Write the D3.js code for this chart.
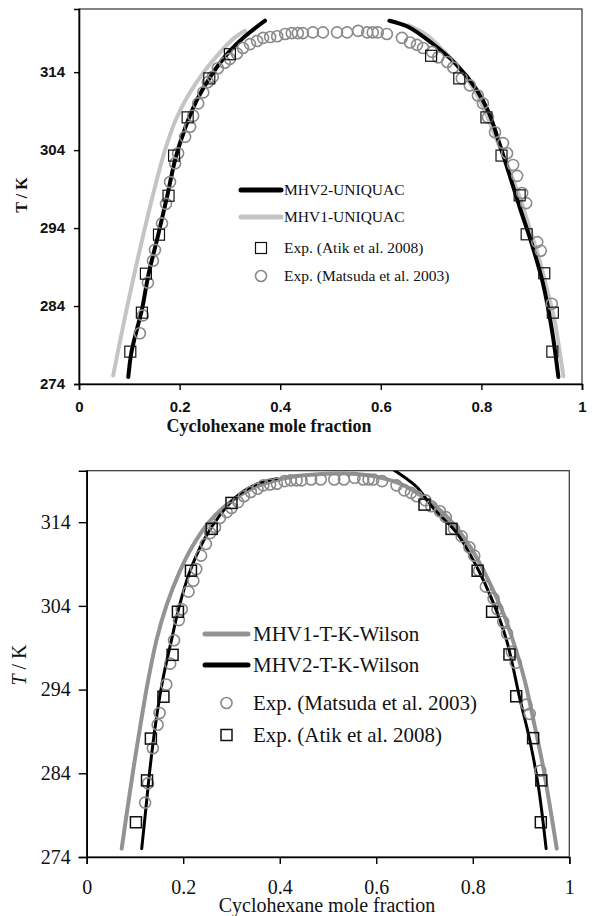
<!DOCTYPE html>
<html>
<head>
<meta charset="utf-8">
<script src="https://cdn.jsdelivr.net/npm/d3@7/dist/d3.min.js"></script>
<style>
body { margin: 0; background: #fff; }
</style>
</head>
<body>
<div id="chart"></div>
<script>
// tick values (both panels)
var xTicks = [0, 0.2, 0.4, 0.6, 0.8, 1];
var yTicks = [274, 284, 294, 304, 314];

// Exp. (Atik et al. 2008)  [x cyclohexane, T/K]
var atikData = [
  [0.102, 278.15], [0.125, 283.15], [0.133, 288.15], [0.159, 293.15], [0.178, 298.15],
  [0.189, 303.3], [0.216, 308.2], [0.259, 313.2], [0.300, 316.3],
  [0.700, 316.1], [0.756, 313.2], [0.810, 308.2], [0.840, 303.3], [0.876, 298.2],
  [0.890, 293.2], [0.925, 288.2], [0.942, 283.15], [0.941, 278.15]
];

// Exp. (Matsuda et al. 2003)
var matsudaData = [
  [0.121, 280.5], [0.127, 282.8], [0.137, 287.0], [0.147, 289.8], [0.151, 291.2],
  [0.165, 294.6], [0.173, 297.1], [0.181, 299.9], [0.191, 302.3], [0.197, 303.6],
  [0.211, 305.7], [0.221, 307.0], [0.227, 308.4], [0.237, 310.0], [0.247, 311.4],
  [0.256, 312.7], [0.266, 313.4], [0.276, 314.5], [0.290, 315.2], [0.300, 315.7],
  [0.314, 316.4], [0.326, 317.1], [0.340, 317.6], [0.354, 318.0], [0.366, 318.4],
  [0.380, 318.5], [0.394, 318.6], [0.410, 318.9], [0.423, 319.0], [0.435, 319.0],
  [0.445, 319.0], [0.465, 319.1], [0.485, 319.1], [0.513, 319.1], [0.533, 319.1],
  [0.555, 319.3], [0.573, 319.1], [0.584, 319.1], [0.594, 319.1], [0.612, 318.9],
  [0.642, 318.4], [0.658, 317.8], [0.672, 317.5], [0.684, 317.1], [0.702, 316.6],
  [0.714, 315.9], [0.732, 315.3], [0.744, 314.6], [0.761, 313.2], [0.777, 312.3],
  [0.793, 311.0], [0.803, 310.0], [0.813, 308.2], [0.827, 306.3], [0.843, 304.9],
  [0.851, 303.6], [0.863, 302.1], [0.871, 300.7], [0.881, 298.5], [0.889, 297.2],
  [0.911, 292.2], [0.918, 291.1], [0.940, 284.3]
];

// top panel: UNIQUAC models
var mhv2UniquacLeft = [
  [0.098, 274.9], [0.104, 278.0], [0.115, 281.0], [0.125, 283.5], [0.138, 288.0],
  [0.157, 293.0], [0.175, 298.0], [0.192, 303.0], [0.212, 307.0], [0.235, 310.5],
  [0.262, 313.5], [0.297, 316.5], [0.330, 318.6], [0.370, 320.6]
];
var mhv2UniquacRight = [
  [0.617, 320.6], [0.655, 319.8], [0.700, 317.8], [0.750, 315.0], [0.790, 311.8],
  [0.815, 308.8], [0.835, 305.0], [0.855, 301.0], [0.877, 296.5], [0.900, 292.0],
  [0.922, 287.0], [0.940, 281.0], [0.953, 274.9]
];
var mhv1UniquacLeft = [
  [0.068, 275.1], [0.080, 279.0], [0.096, 284.0], [0.113, 289.0], [0.131, 294.0],
  [0.150, 299.0], [0.171, 304.0], [0.193, 308.0], [0.217, 311.0], [0.248, 314.0],
  [0.280, 316.5], [0.307, 318.3], [0.330, 319.3]
];
var mhv1UniquacRight = [
  [0.655, 320.0], [0.690, 318.8], [0.728, 316.5], [0.768, 313.5], [0.800, 310.0],
  [0.826, 306.0], [0.852, 302.0], [0.876, 298.0], [0.896, 294.0], [0.915, 290.0],
  [0.931, 286.0], [0.946, 282.0], [0.956, 278.0], [0.963, 275.0]
];

// bottom panel: T-K-Wilson models
var mhv1WilsonCurve = [
  [0.0725, 275.0], [0.085, 280.0], [0.098, 285.0], [0.112, 290.0], [0.127, 295.0],
  [0.145, 300.0], [0.165, 304.0], [0.192, 308.0], [0.218, 311.0], [0.253, 314.0],
  [0.295, 316.3], [0.342, 318.0], [0.392, 319.0], [0.450, 319.6], [0.500, 319.8],
  [0.550, 319.8], [0.594, 319.5], [0.649, 318.6], [0.697, 317.0], [0.746, 314.7],
  [0.794, 311.1], [0.833, 307.0], [0.864, 303.0], [0.888, 299.0], [0.908, 295.0],
  [0.927, 290.0], [0.945, 285.0], [0.960, 280.0], [0.974, 275.0]
];
var mhv2WilsonLeft = [
  [0.114, 275.0], [0.123, 280.0], [0.132, 285.0], [0.143, 290.0], [0.157, 295.0],
  [0.176, 300.0], [0.192, 304.0], [0.213, 308.0], [0.244, 312.0], [0.278, 315.0],
  [0.315, 317.3], [0.355, 318.6], [0.394, 319.2]
];
var mhv2WilsonRight = [
  [0.635, 320.3], [0.660, 319.3], [0.684, 318.2], [0.718, 315.7], [0.767, 312.7],
  [0.808, 308.7], [0.843, 304.3], [0.870, 299.9], [0.898, 292.8], [0.918, 288.0],
  [0.936, 282.4], [0.952, 275.0]
];

var serif = "'Liberation Serif', 'Times New Roman', serif";
var sans = "'Liberation Sans', Arial, sans-serif";

var svg = d3.select("#chart")
  .append("svg")
  .attr("width", 592)
  .attr("height", 916);

function drawPanel(p) {
  var xScale = d3.scaleLinear().domain([0, 1]).range([p.left, p.right]);
  var yScale = d3.scaleLinear().domain([274, p.yMax]).range([p.bottom, p.top]);

  var g = svg.append("g").attr("id", p.id);

  g.append("clipPath").attr("id", "clip-" + p.id)
    .append("rect")
    .attr("x", p.left).attr("y", p.top)
    .attr("width", p.right - p.left).attr("height", p.bottom - p.top);

  // frame
  g.append("rect")
    .attr("x", p.left).attr("y", p.top)
    .attr("width", p.right - p.left).attr("height", p.bottom - p.top)
    .attr("fill", "none")
    .attr("stroke", "#333")
    .attr("stroke-width", 1.2);

  var line = d3.line()
    .x(function(d) { return xScale(d[0]); })
    .y(function(d) { return yScale(d[1]); })
    .curve(d3.curveCatmullRom.alpha(0.5));

  var plot = g.append("g").attr("clip-path", "url(#clip-" + p.id + ")");
  p.curves.forEach(function(c) {
    plot.append("path")
      .datum(c.data)
      .attr("d", line)
      .attr("fill", "none")
      .attr("stroke", c.color)
      .attr("stroke-width", c.width)
      .attr("stroke-linecap", "round")
      .attr("stroke-linejoin", "round");
  });

  // Matsuda circles
  g.append("g")
    .selectAll("circle")
    .data(matsudaData)
    .enter()
    .append("circle")
    .attr("cx", function(d) { return xScale(d[0]); })
    .attr("cy", function(d) { return yScale(d[1]); })
    .attr("r", 5.5)
    .attr("fill", "none")
    .attr("stroke", "#8a8a8a")
    .attr("stroke-width", 1.6);

  // Atik squares
  g.append("g")
    .selectAll("rect")
    .data(atikData)
    .enter()
    .append("rect")
    .attr("x", function(d) { return xScale(d[0]) - 5.5; })
    .attr("y", function(d) { return yScale(d[1]) - 5.5; })
    .attr("width", 11)
    .attr("height", 11)
    .attr("fill", "none")
    .attr("stroke", "#111")
    .attr("stroke-width", p.sqStroke);

  // axes
  var leftAxis = d3.axisLeft(yScale)
    .tickValues(yTicks)
    .tickSize(p.yTickSize)
    .tickPadding(p.yPad)
    .tickFormat(function(d) { return String(d); });
  var bottomAxis = d3.axisBottom(xScale)
    .tickValues(xTicks)
    .tickSize(p.xTickSize)
    .tickPadding(p.xPad)
    .tickFormat(function(d) { return String(d); });

  var ya = g.append("g")
    .attr("transform", "translate(" + p.left + ",0)")
    .call(leftAxis);
  var xa = g.append("g")
    .attr("transform", "translate(0," + p.bottom + ")")
    .call(bottomAxis);

  [ya, xa].forEach(function(a) {
    a.select(".domain").attr("stroke", "#000").attr("stroke-width", 1.6);
    a.selectAll(".tick line").attr("stroke", "#000").attr("stroke-width", 1.4);
    a.selectAll("text")
      .attr("fill", "#111")
      .style("font-family", p.tickFont)
      .style("font-size", p.tickSizePx + "px")
      .style("font-weight", p.tickWeight);
  });

  // axis titles
  g.append("text")
    .attr("x", p.xTitleX)
    .attr("y", p.xTitleY)
    .attr("text-anchor", "middle")
    .style("font-family", serif)
    .style("font-size", p.titleSize + "px")
    .style("font-weight", p.titleWeight)
    .attr("fill", "#111")
    .text("Cyclohexane mole fraction");

  var yt = g.append("text")
    .attr("transform", "translate(" + p.yTitleX + "," + p.yTitleY + ") rotate(-90)")
    .attr("text-anchor", "middle")
    .style("font-family", serif)
    .style("font-size", p.yTitleSize + "px")
    .style("font-weight", p.titleWeight)
    .attr("fill", "#111");
  yt.append("tspan").style("font-style", p.italicT ? "italic" : "normal").text("T");
  yt.append("tspan").text(" / K");

  // legend
  var lg = g.append("g");
  p.legend.forEach(function(item, i) {
    var cy = p.legendY[i];
    if (item.type === "line") {
      lg.append("line")
        .attr("x1", p.legendX0).attr("x2", p.legendX1)
        .attr("y1", cy).attr("y2", cy)
        .attr("stroke", item.color)
        .attr("stroke-width", 5)
        .attr("stroke-linecap", "round");
    } else if (item.type === "square") {
      lg.append("rect")
        .attr("x", (p.legendX0 + p.legendX1) / 2 - 5.5)
        .attr("y", cy - 5.5)
        .attr("width", 11).attr("height", 11)
        .attr("fill", "none").attr("stroke", "#111")
        .attr("stroke-width", p.sqStroke);
    } else {
      lg.append("circle")
        .attr("cx", (p.legendX0 + p.legendX1) / 2)
        .attr("cy", cy)
        .attr("r", 5.5)
        .attr("fill", "none").attr("stroke", "#8a8a8a")
        .attr("stroke-width", 1.6);
    }
    lg.append("text")
      .attr("x", p.legendTextX)
      .attr("y", cy)
      .attr("dy", "0.35em")
      .style("font-family", serif)
      .style("font-size", p.legendSize + "px")
      .attr("fill", "#111")
      .text(item.label);
  });
}

drawPanel({
  id: "uniquac",
  left: 79, right: 582, top: 9, bottom: 384, yMax: 322.1,
  curves: [
    { data: mhv1UniquacLeft, color: "#c4c4c4", width: 4 },
    { data: mhv1UniquacRight, color: "#c4c4c4", width: 4 },
    { data: mhv2UniquacLeft, color: "#000", width: 4 },
    { data: mhv2UniquacRight, color: "#000", width: 4 }
  ],
  sqStroke: 1.2,
  yTickSize: 5, yPad: 9, xTickSize: 6, xPad: 11,
  tickFont: sans, tickSizePx: 15, tickWeight: "bold",
  xTitleX: 269, xTitleY: 432, titleSize: 18, titleWeight: "bold",
  yTitleX: 27, yTitleY: 195, yTitleSize: 16, italicT: false,
  legend: [
    { type: "line", color: "#000", label: "MHV2-UNIQUAC" },
    { type: "line", color: "#c4c4c4", label: "MHV1-UNIQUAC" },
    { type: "square", label: "Exp. (Atik et al. 2008)" },
    { type: "circle", label: "Exp. (Matsuda et al. 2003)" }
  ],
  legendY: [190, 217, 248, 276],
  legendX0: 241, legendX1: 281, legendTextX: 284, legendSize: 15.5
});

drawPanel({
  id: "wilson",
  left: 86.7, right: 569.3, top: 470.7, bottom: 857, yMax: 320.15,
  curves: [
    { data: mhv1WilsonCurve, color: "#939393", width: 4 },
    { data: mhv2WilsonLeft, color: "#000", width: 3 },
    { data: mhv2WilsonRight, color: "#000", width: 3 }
  ],
  sqStroke: 1.5,
  yTickSize: 8, yPad: 8, xTickSize: 7, xPad: 16,
  tickFont: serif, tickSizePx: 20, tickWeight: "normal",
  xTitleX: 327, xTitleY: 912, titleSize: 20, titleWeight: "normal",
  yTitleX: 26, yTitleY: 665, yTitleSize: 20, italicT: true,
  legend: [
    { type: "line", color: "#939393", label: "MHV1-T-K-Wilson" },
    { type: "line", color: "#000", label: "MHV2-T-K-Wilson" },
    { type: "circle", label: "Exp. (Matsuda et al. 2003)" },
    { type: "square", label: "Exp. (Atik et al. 2008)" }
  ],
  legendY: [634, 665, 703, 735],
  legendX0: 205, legendX1: 248, legendTextX: 253, legendSize: 21
});
</script>
</body>
</html>
